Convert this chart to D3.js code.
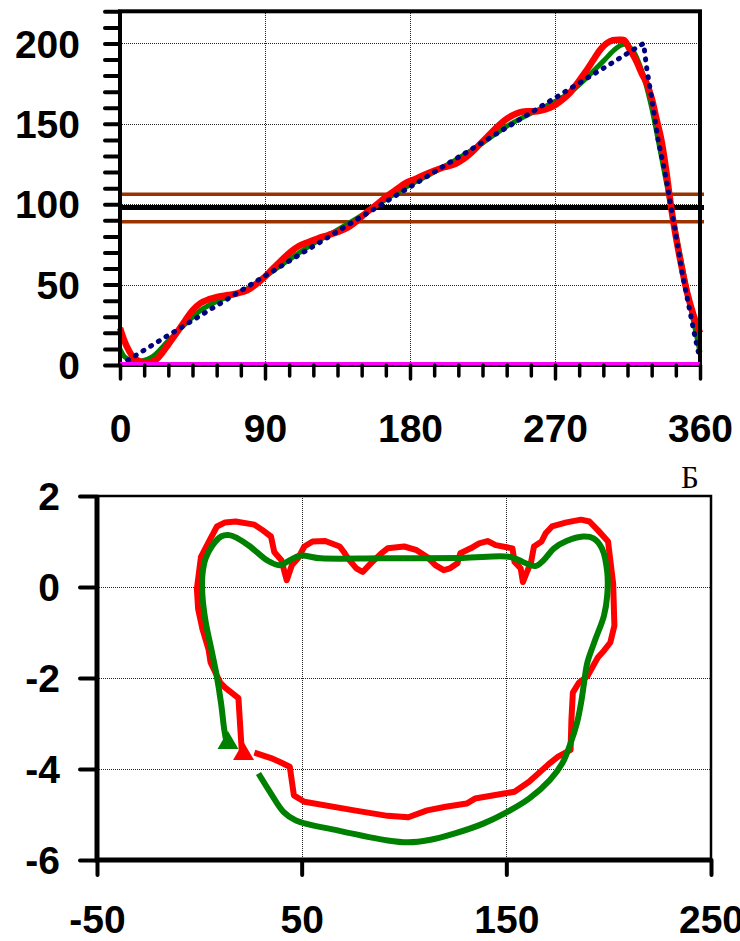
<!DOCTYPE html>
<html>
<head>
<meta charset="utf-8">
<script src="https://cdn.jsdelivr.net/npm/d3@7"></script>
<style>
  html, body { margin: 0; padding: 0; background: #fff; }
  svg { display: block; }
  .lbl text { font-family: "Liberation Sans", Arial, sans-serif; font-weight: bold; font-size: 39px; fill: #000; }
</style>
</head>
<body>
<svg id="chart" width="740" height="941"></svg>
<script>
// ---------- Upper panel: value vs angle (0..360) ----------
const angleTicks = [0, 90, 180, 270, 360];
const valueTicks = [0, 50, 100, 150, 200];

const redAngle = [0, 4, 9, 16, 22, 30, 40, 45, 50, 55, 61, 67, 73, 79, 84, 89, 94, 100, 106, 111, 117, 123, 129, 136, 142, 147, 152, 157, 162, 167, 172, 177, 183, 189, 195, 201, 208, 213, 218, 223, 228, 233, 238, 243, 248, 253, 259, 264, 269, 274, 279, 284, 289, 294, 298, 302, 306, 310, 313, 316, 320, 324, 327, 330, 333, 336, 339, 341, 343, 345, 348, 352, 356, 360];
const redValue = [23, 12, 4, 1.4, 3, 12.8, 27, 34, 38.5, 40.8, 42.5, 43.5, 44.6, 46.5, 49.8, 54, 59, 65, 70.4, 74, 76.5, 78.8, 80.7, 83, 85.8, 89.5, 94, 98, 102, 106, 109.5, 113, 115.6, 118.3, 120.8, 123, 125, 128, 132, 137, 142, 147, 151.6, 155, 157.2, 157.8, 157.8, 159, 161, 164.5, 169, 175.5, 182.5, 190, 196, 200, 202, 202.3, 202, 197, 190, 181, 175, 166, 153, 140, 121, 106, 92, 80, 64, 45, 31, 20];

const greenAngle = [0, 3, 8, 13, 20, 30, 40, 50, 60, 70, 80, 90, 100, 110, 120, 135, 150, 165, 180, 195, 210, 225, 240, 255, 270, 280, 290, 300, 308, 313, 318, 322, 326, 330, 335, 340, 345, 350, 355, 360];
const greenValue = [10, 5, 2.5, 2.3, 5, 15, 25, 34, 39.5, 43.5, 48, 55, 62, 69, 75.5, 84, 93, 103, 112, 120, 128.5, 138, 148.5, 156.5, 164, 170, 179, 189, 197, 199.5, 196, 188, 176, 160, 135, 109, 82, 56, 32, 8];

const blueAngle = [0, 325, 327, 330, 334, 338, 340, 342, 344, 346, 349, 352, 355, 357, 359];
const blueValue = [0, 200, 184, 166, 140, 121, 110, 98, 87, 75, 57, 42, 27, 17, 8];

const upperLevel = 106.2;
const meanLevel = 97.9;
const lowerLevel = 89.1;
const baseLevel = 0.8;

// ---------- Lower panel: closed trajectory ----------
const xTicks2 = [-50, 50, 150, 250];
const yTicks2 = [2, 0, -2, -4, -6];

const redX = [20.8, 19.1, 12.6, 10.2, 5.5, 4.5, 1.5, -0.6, -1.2, 0.8, 5.5, 8.6, 12.6, 17.7, 26.9, 30.9, 35.0, 36.6, 40.1, 42.7, 45.2, 48.2, 51.3, 55.3, 61.5, 68.6, 70.6, 72.6, 76.7, 79.8, 83.8, 88.9, 92.0, 100.1, 106.2, 111.3, 115.3, 119.4, 122.5, 126.1, 127.5, 132.6, 136.7, 140.8, 144.8, 153.0, 154.0, 157.0, 158.1, 160.1, 162.1, 163.5, 167.2, 169.2, 172.3, 179.4, 186.5, 190.6, 194.7, 199.7, 202.2, 202.8, 200.8, 197.7, 194.7, 189.6, 185.5, 182.5, 181.8, 181.4, 175.3, 171.3, 161.1, 154.0, 148.9, 134.7, 130.6, 120.4, 111.3, 102.1, 92.0, 75.7, 51.3, 46.2, 44.2, 39.1, 35.0, 26.9];
const redY = [-3.65, -2.44, -2.21, -2.10, -1.66, -1.37, -0.92, -0.48, -0.04, 0.66, 1.07, 1.33, 1.42, 1.44, 1.37, 1.25, 1.11, 0.77, 0.59, 0.15, 0.48, 0.63, 0.89, 1.00, 1.01, 0.89, 0.77, 0.63, 0.41, 0.33, 0.52, 0.74, 0.85, 0.89, 0.81, 0.66, 0.48, 0.37, 0.41, 0.52, 0.74, 0.85, 0.96, 1.01, 0.92, 0.85, 0.55, 0.41, 0.11, 0.33, 0.55, 0.89, 1.00, 1.18, 1.33, 1.42, 1.48, 1.44, 1.25, 1.00, 0.07, -0.85, -1.22, -1.40, -1.55, -1.96, -2.10, -2.32, -2.92, -3.58, -3.73, -3.87, -4.28, -4.50, -4.54, -4.65, -4.76, -4.83, -4.91, -5.06, -5.03, -4.91, -4.72, -4.58, -3.95, -3.84, -3.76, -3.64];

const greenX = [13.7, 12.2, 10.6, 8.2, 5.5, 3.1, 1.5, 1.5, 3.1, 6.5, 10.6, 14.7, 18.7, 24.8, 33.0, 39.1, 44.2, 49.2, 59.4, 87.9, 128.6, 152.0, 158.1, 164.2, 168.2, 173.3, 179.4, 187.5, 192.6, 196.7, 199.3, 199.3, 197.7, 193.6, 189.6, 188.0, 186.5, 184.5, 181.4, 177.4, 171.3, 161.1, 148.9, 138.7, 124.5, 112.3, 102.1, 92.0, 67.6, 47.2, 41.1, 35.0, 28.9];
const greenY = [-3.51, -3.14, -2.55, -1.88, -1.29, -0.77, -0.18, 0.26, 0.63, 0.92, 1.11, 1.14, 1.07, 0.89, 0.59, 0.48, 0.59, 0.69, 0.63, 0.63, 0.64, 0.66, 0.55, 0.46, 0.59, 0.85, 1.01, 1.11, 1.07, 0.85, 0.33, -0.18, -0.63, -1.14, -1.66, -2.10, -2.55, -2.99, -3.43, -3.87, -4.24, -4.65, -4.98, -5.20, -5.42, -5.56, -5.61, -5.57, -5.35, -5.13, -4.94, -4.54, -4.10];

const startMarkers = [
  { x: 14.0, y: -3.43, color: "#008000" },
  { x: 21.6, y: -3.67, color: "#ff0000" }
];

// ---------- Drawing ----------
const svg = d3.select("#chart");
const zip = (a, b) => a.map((v, i) => [v, b[i]]);
const plain = d => String(d); // ASCII hyphen for negatives
const gridColor = "#222";

function styleTicks(g, width) {
  g.select(".domain").remove();
  g.selectAll(".tick line").attr("stroke", "#000").attr("stroke-width", width).attr("stroke-linecap", "round");
}
function gridStyle(sel) {
  sel.attr("stroke", gridColor).attr("stroke-width", 1).attr("stroke-dasharray", "1,1")
     .attr("shape-rendering", "crispEdges");
}

// Upper panel
const x1 = d3.scaleLinear().domain([0, 360]).range([120, 700]);
const y1 = d3.scaleLinear().domain([0, 220]).range([365, 11.3]);
const p1 = svg.append("g");

// grid
p1.append("g").selectAll("line").data([90, 180, 270]).join("line")
  .attr("x1", d => Math.round(x1(d)) + 0.5).attr("x2", d => Math.round(x1(d)) + 0.5).attr("y1", y1(220)).attr("y2", y1(0))
  .call(gridStyle);
p1.append("g").selectAll("line").data([50, 100, 150, 200]).join("line")
  .attr("y1", d => Math.round(y1(d)) + 0.5).attr("y2", d => Math.round(y1(d)) + 0.5).attr("x1", x1(0)).attr("x2", x1(360))
  .call(gridStyle);

// reference levels
const levelLine = (v, color, w, ext) => p1.append("line")
  .attr("x1", x1(0)).attr("x2", x1(360) + (ext || 0)).attr("y1", y1(v)).attr("y2", y1(v))
  .attr("stroke", color).attr("stroke-width", w);
levelLine(upperLevel, "#993300", 3.5, 4);
levelLine(lowerLevel, "#993300", 3.5, 4);
levelLine(meanLevel, "#000", 5, 4);

// curves
const line1 = d3.line().x(d => x1(d[0])).y(d => y1(d[1]));
p1.append("path").datum(zip(greenAngle, greenValue))
  .attr("d", line1.curve(d3.curveCatmullRom.alpha(0.5)))
  .attr("fill", "none").attr("stroke", "#008000").attr("stroke-width", 5).attr("stroke-linejoin", "round");
p1.append("path").datum(zip(redAngle, redValue))
  .attr("d", line1.curve(d3.curveCatmullRom.alpha(0.5)))
  .attr("fill", "none").attr("stroke", "#ff0000").attr("stroke-width", 6.5).attr("stroke-linejoin", "round");
p1.append("path").datum(zip(blueAngle, blueValue))
  .attr("d", line1.curve(d3.curveLinear))
  .attr("fill", "none").attr("stroke", "#000080").attr("stroke-width", 5)
  .attr("stroke-linecap", "round").attr("stroke-dasharray", "1,8");

// frame
p1.append("rect").attr("x", x1(0)).attr("y", y1(220)).attr("width", x1(360) - x1(0)).attr("height", y1(0) - y1(220))
  .attr("fill", "none").attr("stroke", "#000").attr("stroke-width", 4);

// base level drawn over the frame's lower edge
levelLine(baseLevel, "#ff00ff", 3.5);

// axes
const minorAngles = d3.range(0, 361, 15).filter(d => d % 90 !== 0);
p1.append("g").attr("transform", `translate(0,${y1(0)})`)
  .call(d3.axisBottom(x1).tickValues(minorAngles).tickSize(11).tickFormat(""))
  .call(g => styleTicks(g, 3.5));
p1.append("g").attr("class", "lbl").attr("transform", `translate(0,${y1(0)})`)
  .call(d3.axisBottom(x1).tickValues(angleTicks).tickSize(14).tickPadding(35).tickFormat(plain))
  .call(g => styleTicks(g, 3.5))
  .call(g => g.selectAll("text").attr("font-family", null).attr("font-size", null));
p1.append("g").attr("transform", `translate(${x1(0)},0)`)
  .call(d3.axisLeft(y1).tickValues(d3.range(0, 221, 10)).tickSize(15).tickFormat(""))
  .call(g => styleTicks(g, 4));
p1.append("g").attr("class", "lbl").attr("transform", `translate(${x1(0)},0)`)
  .call(d3.axisLeft(y1).tickValues(valueTicks).tickSize(0).tickPadding(40).tickFormat(plain))
  .call(g => g.select(".domain").remove())
  .call(g => g.selectAll("text").attr("dy", "0.35em").attr("font-family", null).attr("font-size", null));

// Lower panel
const x2 = d3.scaleLinear().domain([-50, 250]).range([97, 711]);
const y2 = d3.scaleLinear().domain([-6, 2]).range([860, 496]);
const p2 = svg.append("g");

p2.append("g").selectAll("line").data([50, 150]).join("line")
  .attr("x1", d => Math.round(x2(d)) + 0.5).attr("x2", d => Math.round(x2(d)) + 0.5).attr("y1", y2(2)).attr("y2", y2(-6))
  .call(gridStyle);
p2.append("g").selectAll("line").data([0, -2, -4]).join("line")
  .attr("y1", d => Math.round(y2(d)) + 0.5).attr("y2", d => Math.round(y2(d)) + 0.5).attr("x1", x2(-50)).attr("x2", x2(250))
  .call(gridStyle);

// thin top/right border
p2.append("path")
  .attr("d", `M${x2(-50)},${y2(2)}H${x2(250)}V${y2(-6)}`)
  .attr("fill", "none").attr("stroke", "#000").attr("stroke-width", 2.5);

const line2 = d3.line().x(d => x2(d[0])).y(d => y2(d[1]));
p2.append("path").datum(zip(redX, redY))
  .attr("d", line2.curve(d3.curveLinear))
  .attr("fill", "none").attr("stroke", "#ff0000").attr("stroke-width", 6).attr("stroke-linejoin", "round");
p2.append("path").datum(zip(greenX, greenY))
  .attr("d", line2.curve(d3.curveCatmullRom.alpha(0.5)))
  .attr("fill", "none").attr("stroke", "#008000").attr("stroke-width", 6).attr("stroke-linejoin", "round");

p2.append("g").selectAll("path").data(startMarkers).join("path")
  .attr("transform", d => `translate(${x2(d.x)},${y2(d.y)})`)
  .attr("d", d3.symbol(d3.symbolTriangle, 190))
  .attr("fill", d => d.color);

// thick left/bottom axes
p2.append("path")
  .attr("d", `M${x2(-50)},${y2(2)}V${y2(-6)}H${x2(250)}`)
  .attr("fill", "none").attr("stroke", "#000").attr("stroke-width", 5);
p2.append("g").attr("class", "lbl").attr("transform", `translate(0,${y2(-6)})`)
  .call(d3.axisBottom(x2).tickValues(xTicks2).tickSize(15).tickPadding(30).tickFormat(plain))
  .call(g => styleTicks(g, 4))
  .call(g => g.selectAll("text").attr("font-family", null).attr("font-size", null));
p2.append("g").attr("class", "lbl").attr("transform", `translate(${x2(-50)},0)`)
  .call(d3.axisLeft(y2).tickValues(yTicks2).tickSize(17).tickPadding(20).tickFormat(plain))
  .call(g => styleTicks(g, 4))
  .call(g => g.selectAll("text").attr("dy", "0.35em").attr("font-family", null).attr("font-size", null));

// panel letter
svg.append("text").attr("x", 690).attr("y", 488).attr("text-anchor", "middle")
  .attr("font-family", "'Liberation Serif', 'Times New Roman', serif").attr("font-size", 31)
  .text("Б");
</script>
</body>
</html>
